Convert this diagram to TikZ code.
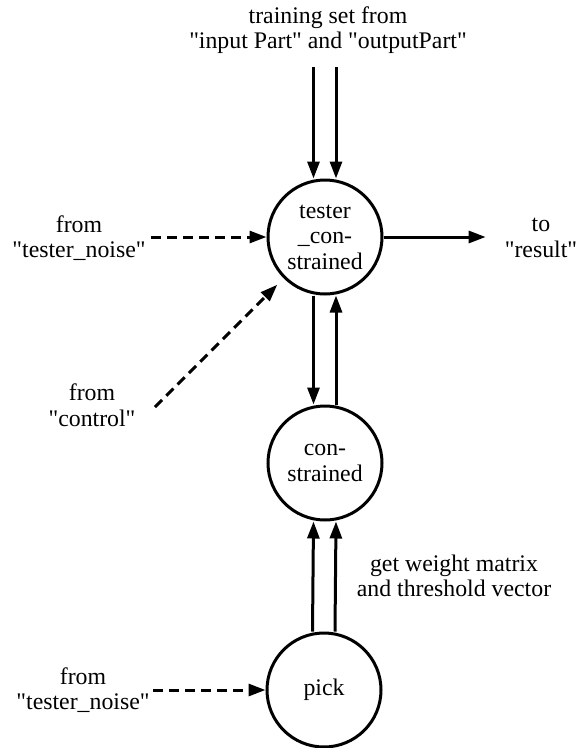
\documentclass[tikz,border=0pt]{standalone}
\usepackage{fontspec}
\newfontfamily\libser{Liberation Serif}
\usetikzlibrary{arrows.meta,calc}
\begin{document}
\begin{tikzpicture}[x=1pt,y=-1pt,
  txt/.style={font=\libser\fontsize{23.8}{25.5}\selectfont, align=center, inner sep=3pt},
  circ/.style={txt, draw, circle, line width=3pt, minimum size=114pt, inner sep=0pt},
  arr/.style={line width=3pt, -{Triangle[length=17pt,width=12pt]}},
  dsh/.style={arr, dash pattern=on 10pt off 6pt}]
\useasboundingbox (0,0) rectangle (581,748);
\node[circ] (tc) at (325,237) {tester\\\_con-\\strained};
\node[circ] (con) at (325,463) {con-\\strained};
\node[circ] (pick) at (324,690) {pick};
\node[txt] (trn) at (328,30) {training set from\\"input Part" and "outputPart"};
\node[txt] (tn1) at (79,238) {from\\"tester\_noise"};
\node[txt] (ctl) at (92,405) {from\\"control"};
\node[txt] (tn2) at (83,690) {from\\"tester\_noise"};
\node[txt] (res) at (541,238) {to\\"result"};
\node[txt] (gw) at (454,576) {get weight matrix\\and threshold vector};
\coordinate (in1) at (313.5,67);
\coordinate (in2) at (336,67);
\coordinate (cst) at (155,407);
% top inputs
\draw[arr] (in1) -- (in1 |- tc.north);
\draw[arr] (in2) -- (in2 |- tc.north);
% tc <-> con
\draw[arr] ([xshift=-11.5pt]tc.south) -- ([xshift=-11.5pt]con.north);
\draw[arr] ([xshift=11pt]con.north) -- ([xshift=11pt]tc.south);
% pick -> con
\draw[arr] ([xshift=-11.5pt]pick.north) -- ([xshift=-11.5pt]con.south);
\draw[arr] ([xshift=11pt]pick.north) -- ([xshift=11pt]con.south);
% result
\draw[arr, shorten >=16pt] (tc.east) -- (tc.east -| res.west);
% dashed
\draw[dsh] ([xshift=2pt]tn1.east |- tc.west) -- (tc.west);
\draw[dsh, shorten >=9pt] (cst) -- (tc.-135);
\draw[dsh] (tn2.east |- pick.west) -- (pick.west);
\end{tikzpicture}
\end{document}
